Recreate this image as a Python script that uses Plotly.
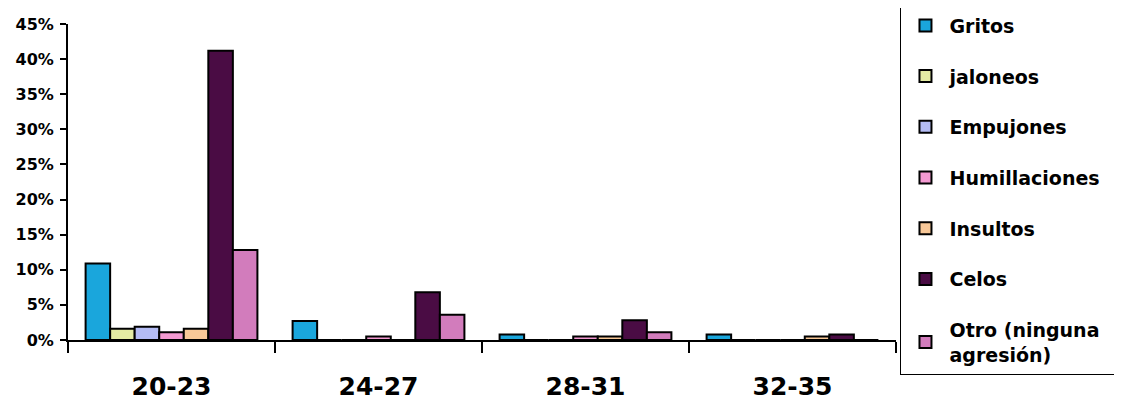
import plotly.graph_objects as go

categories = ["20-23", "24-27", "28-31", "32-35"]
series_names = ["Gritos", "jaloneos", "Empujones", "Humillaciones\u00a0\u00a0", "Insultos", "Celos",
                "Otro (ninguna<br>agresión)"]
gritos = [0.109, 0.027, 0.008, 0.008]
jaloneos = [0.016, 0.0, 0.0, 0.0]
empujones = [0.019, 0.0, 0.0, 0.0]
humillaciones = [0.011, 0.005, 0.005, 0.0]
insultos = [0.016, 0.0, 0.005, 0.005]
celos = [0.412, 0.068, 0.028, 0.008]
otro = [0.128, 0.036, 0.011, 0.0]
series_values = [gritos, jaloneos, empujones, humillaciones, insultos, celos, otro]
colors = ["#1aa6dc", "#e4eca4", "#b4bcf4", "#f49ad2", "#f8c898", "#4a0c44", "#d27cbc"]

font_family = "DejaVu Sans, Verdana, sans-serif"

fig = go.Figure()
for name, vals, col in zip(series_names, series_values, colors):
    fig.add_trace(go.Bar(
        x=categories, y=vals, name=name, legendgroup=name,
        marker=dict(color=col, line=dict(color="black", width=2)),
    ))

fig.update_layout(
    width=1122, height=407,
    margin=dict(l=60, r=234, t=16, b=75, autoexpand=False),
    paper_bgcolor="white", plot_bgcolor="white",
    barmode="group", bargap=0.17, bargroupgap=0,
    font=dict(family=font_family, color="black", weight="bold"),
    legend=dict(
        x=1.0048, y=1.06, xanchor="left", yanchor="top",
        bordercolor="black", borderwidth=1.5,
        font=dict(size=19, family=font_family, weight="bold"),
        tracegroupgap=23, itemwidth=38, maxheight=420,
    ),
    xaxis=dict(
        showline=True, linecolor="black", linewidth=2,
        ticks="outside", tickson="boundaries", ticklen=11, tickwidth=2, tickcolor="black",
        tickfont=dict(size=25, family=font_family, weight="bold"),
        ticklabelstandoff=23,
        showgrid=False, automargin=False,
    ),
    yaxis=dict(
        range=[0, 0.45], dtick=0.05, tickformat=".0%",
        showline=True, linecolor="black", linewidth=2,
        ticks="outside", ticklen=6, tickwidth=2, tickcolor="black",
        tickfont=dict(size=16, family=font_family, weight="bold"),
        ticklabelstandoff=3,
        showgrid=False, zeroline=False, automargin=False,
    ),
)

fig.write_html("out.html")
